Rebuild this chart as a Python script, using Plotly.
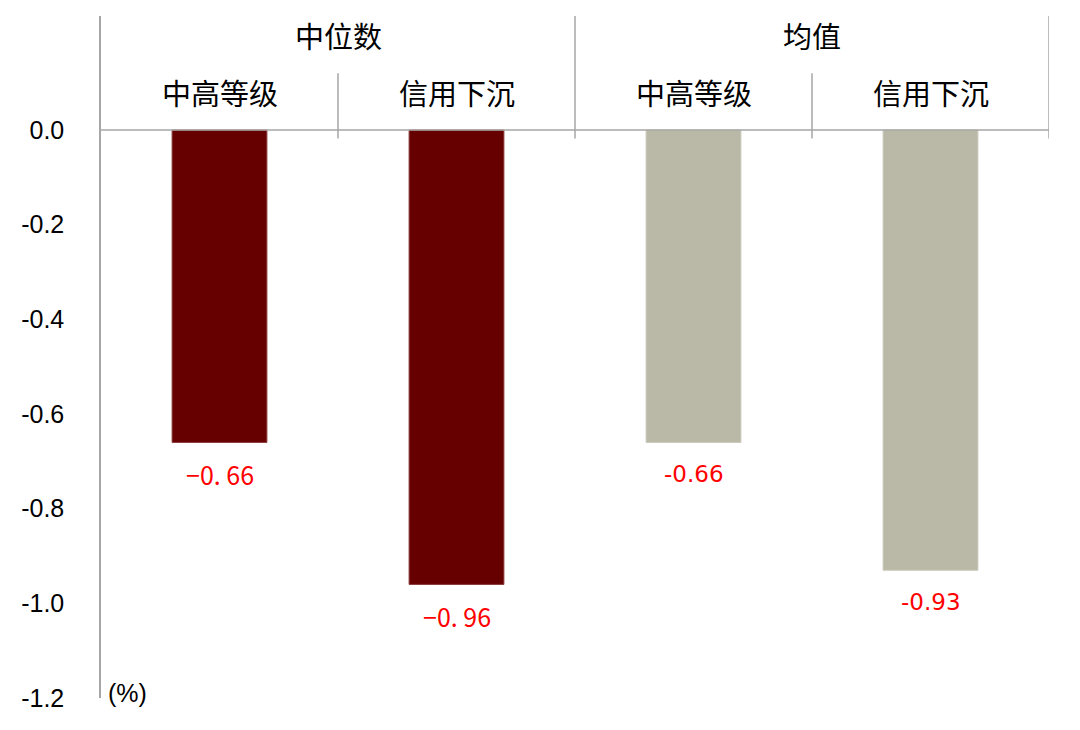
import plotly.graph_objects as go

# ---- data ----
groups = ["中位数", "均值"]
subcats = ["中高等级", "信用下沉"]
median_values = [-0.66, -0.96]
mean_values = [-0.66, -0.93]
y_ticks = [0.0, -0.2, -0.4, -0.6, -0.8, -1.0, -1.2]
y_tick_labels = ["0.0", "-0.2", "-0.4", "-0.6", "-0.8", "-1.0", "-1.2"]
unit_label = "(%)"

DARK_RED = "#660000"
GRAY = "#BAB9A7"
LINE = "#A6A6A6"
CJK = "Noto Sans CJK SC"

x_median = [0, 1]
x_mean = [2, 3]

fig = go.Figure()
fig.add_trace(go.Bar(x=x_median, y=median_values, width=0.4,
                     marker=dict(color=DARK_RED, line=dict(color="#8a3a3a", width=1)),
                     showlegend=False, hoverinfo="y"))
fig.add_trace(go.Bar(x=x_mean, y=mean_values, width=0.4,
                     marker=dict(color=GRAY, line=dict(color="#c9c8b9", width=1)),
                     showlegend=False, hoverinfo="y"))

ann = []
# value labels
for x, v in zip(x_median, median_values):
    txt = ("−" + f"{abs(v):.2f}").replace(".", ". ")
    ann.append(dict(x=x, y=v, xref="x", yref="y", text=txt, showarrow=False,
                    yanchor="middle", yshift=-32,
                    font=dict(family=CJK, size=25, color="#FF0000")))
for x, v in zip(x_mean, mean_values):
    ann.append(dict(x=x, y=v, xref="x", yref="y", text=f"{v:.2f}", showarrow=False,
                    yanchor="middle", yshift=-32,
                    font=dict(family="DejaVu Sans", size=23, color="#FF0000")))

# header labels
for gi, g in enumerate(groups):
    ann.append(dict(x=gi * 2 + 0.5, y=0.2005, xref="x", yref="y", text=g, showarrow=False,
                    yanchor="middle", font=dict(family=CJK, size=29, color="black")))
    for si, s in enumerate(subcats):
        ann.append(dict(x=gi * 2 + si, y=0.0806, xref="x", yref="y", text=s, showarrow=False,
                        yanchor="middle", font=dict(family=CJK, size=29, color="black")))

ann.append(dict(x=0, y=-1.2, xref="paper", yref="y", text=unit_label, showarrow=False,
                xanchor="left", yanchor="middle", xshift=5, yshift=5,
                font=dict(family="Liberation Sans, Arial", size=25, color="black")))

shapes = []
# zero line
shapes.append(dict(type="line", xref="x", yref="y", x0=-0.5, x1=3.5, y0=0, y1=0,
                   line=dict(color=LINE, width=1.5)))
# full-height dividers
for xv in [1.5, 3.5]:
    shapes.append(dict(type="line", xref="x", yref="y", x0=xv, x1=xv, y0=-0.018, y1=0.241,
                       line=dict(color=LINE, width=1.5)))
# sub dividers
for xv in [0.5, 2.5]:
    shapes.append(dict(type="line", xref="x", yref="y", x0=xv, x1=xv, y0=-0.018, y1=0.12,
                       line=dict(color=LINE, width=1.5)))

fig.update_layout(
    width=1080, height=730,
    margin=dict(l=93, r=39, t=8, b=40),
    plot_bgcolor="white", paper_bgcolor="white",
    annotations=ann, shapes=shapes,
    bargap=0.6,
)
fig.update_xaxes(range=[-0.5, 3.5], showticklabels=False, showgrid=False,
                 zeroline=False, showline=False, ticks="")
fig.update_yaxes(range=[-1.2, 0.241], tickvals=y_ticks, ticktext=y_tick_labels,
                 showgrid=False, zeroline=False, showline=True, linecolor=LINE,
                 linewidth=1.5, ticks="", ticklabelstandoff=30,
                 tickfont=dict(family="Liberation Sans, Arial", size=25, color="black"))

fig.write_html("out.html")
